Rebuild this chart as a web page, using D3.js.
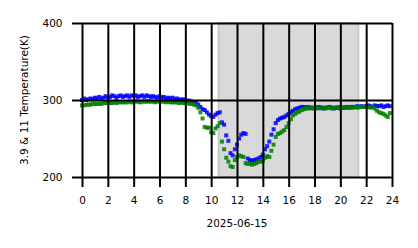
<!DOCTYPE html>
<html>
<head>
<meta charset="utf-8">
<script src="https://cdn.jsdelivr.net/npm/d3@7"></script>
<style>
  body { margin: 0; background: #fff; }
  text { font-family: "DejaVu Sans", sans-serif; font-size: 10.5px; fill: #000; }
</style>
</head>
<body>
<div id="chart"></div>
<script>
// samples every 10 minutes on 2025-06-15
var times = d3.range(144).map(function(i){ return i / 6; });

var blueTemps = [
  300, 302, 300, 301, 302, 301, 303,
  302, 304, 302, 303, 305, 303,
  304, 306, 305, 303, 305, 306, 304, 305, 306, 304, 306, 305,
  306, 304, 305, 306, 304, 306, 305, 304, 305, 304, 303, 305,
  303, 304, 302, 303, 302, 303,
  301, 302, 301, 300, 301, 300,
  299, 299, 298, 297, 296,
  294, 291, 288, 287, 284, 281, 279, 278, 281, 283,
  284, 271, 268, 254, 247, 231, 228, 236, 242, 250,
  255, 257, 256, 224, 222, 221, 222, 223, 224, 226,
  229, 236, 240, 246, 255, 262, 270, 274, 276, 277,
  278, 280, 282, 284, 286, 288, 289, 290, 291,
  291, 290, 291, 290, 290, 289, 290, 291, 290, 289, 290, 290,
  291, 290, 289, 290, 290, 291, 290, 290, 291, 290, 291, 291,
  291, 292, 291, 292, 291, 292, 293, 292, 291, 293, 292, 292,
  293, 291, 292, 293, 292
];

var greenTemps = [
  293, 293, 294, 294, 294, 295, 295,
  295, 295, 295, 296, 296, 296,
  296, 296, 297, 296, 297, 297, 297, 297, 297, 298, 297, 297,
  298, 298, 297, 298, 298, 298, 298, 298, 298, 297, 298, 298,
  298, 298, 297, 298, 297, 297, 297, 297, 296, 297, 296, 296,
  296, 295, 295, 294, 293,
  290, 284, 276, 265, 264, 264, 258, 257, 263, 266,
  270, 246, 236, 225, 220, 214, 213, 222, 226, 228,
  227, 226, 218, 217, 217, 216, 217, 218, 220, 220,
  221, 225, 227, 226, 234, 242, 252, 256, 257, 259,
  261, 265, 270, 275, 280, 282, 284, 285, 287,
  288, 289, 289, 290, 289, 290, 290, 289, 290, 290, 289, 290,
  290, 289, 290, 290, 290, 289, 290, 290, 290, 291, 290, 290,
  291, 290, 291, 291, 291,
  291, 291, 290, 291, 289, 286, 284, 283, 282, 280, 278, 283
];

var shadeSpan = [10.58, 21.4];
var xTicks = [0, 2, 4, 6, 8, 10, 12, 14, 16, 18, 20, 22, 24];
var yTicks = [200, 300, 400];

var W = 418, H = 248;
var margin = {top: 23, right: 26, bottom: 71, left: 82};
var width = W - margin.left - margin.right;
var height = H - margin.top - margin.bottom;

var x = d3.scaleLinear().domain([0, 24]).range([0, width]);
var y = d3.scaleLinear().domain([200, 400]).range([height, 0]);

var svg = d3.select("#chart").append("svg")
            .attr("width", W)
            .attr("height", H);

var g = svg.append("g")
           .attr("transform", "translate(" + margin.left + "," + margin.top + ")");

// shaded period
g.append("rect")
 .attr("x", x(shadeSpan[0]))
 .attr("y", 0)
 .attr("width", x(shadeSpan[1]) - x(shadeSpan[0]))
 .attr("height", height)
 .attr("fill", "#d9d9d9")
 .attr("stroke", "#c9c9c9")
 .attr("stroke-width", 2);

var ms = 4;
function drawSeries(vals, color){
  g.append("g").selectAll("rect")
   .data(vals)
   .enter().append("rect")
   .attr("x", function(d, i){ return x(times[i]) - ms / 2; })
   .attr("y", function(d){ return y(d) - ms / 2; })
   .attr("width", ms)
   .attr("height", ms)
   .attr("fill", color)
   .attr("fill-opacity", 0.85);
}
drawSeries(blueTemps, "#0000ff");
drawSeries(greenTemps, "#008000");

// grid lines on top of data
g.append("g")
 .attr("transform", "translate(0," + height + ")")
 .call(d3.axisBottom(x).tickValues(xTicks).tickSize(-height).tickFormat(""))
 .call(function(a){ a.select(".domain").remove(); });

g.append("g")
 .call(d3.axisLeft(y).tickValues(yTicks).tickSize(-width).tickFormat(""))
 .call(function(a){ a.select(".domain").remove(); });

// ticks and labels
g.append("g")
 .attr("class", "xaxis")
 .attr("transform", "translate(0," + height + ")")
 .call(d3.axisBottom(x).tickValues(xTicks).tickSize(10).tickPadding(10))
 .call(function(a){ a.select(".domain").remove(); });

g.append("g")
 .attr("class", "yaxis")
 .call(d3.axisLeft(y).tickValues(yTicks).tickSize(10).tickPadding(9.5))
 .call(function(a){ a.select(".domain").remove(); });

g.selectAll(".tick line")
 .attr("stroke", "#000")
 .attr("stroke-width", 2);

g.selectAll(".tick text")
 .style("font-family", "DejaVu Sans, sans-serif")
 .style("font-size", "10.5px");

g.append("text")
 .attr("x", width / 2)
 .attr("y", height + 50)
 .attr("text-anchor", "middle")
 .text("2025-06-15");

svg.append("text")
 .attr("transform", "translate(28," + (margin.top + height / 2) + ") rotate(-90)")
 .attr("text-anchor", "middle")
 .text("3.9 & 11 Temperature(K)");
</script>
</body>
</html>
